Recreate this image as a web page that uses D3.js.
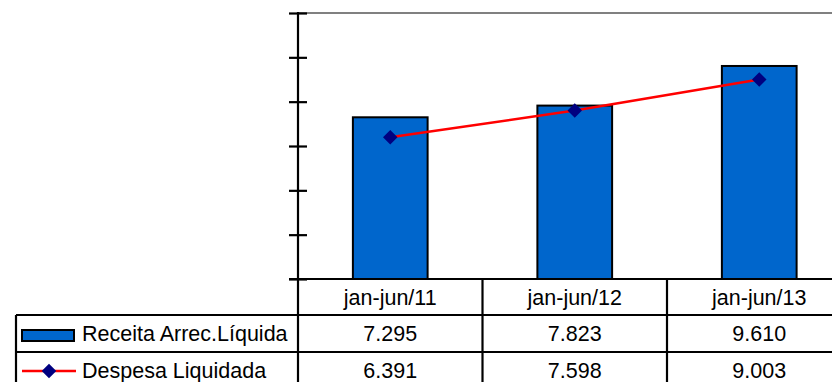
<!DOCTYPE html>
<html>
<head>
<meta charset="utf-8">
<script src="https://cdn.jsdelivr.net/npm/d3@7"></script>
<style>
  body { margin: 0; background: #fff; }
  svg { display: block; font-family: "Liberation Sans", Arial, sans-serif; }
</style>
</head>
<body>
<svg id="chart" width="832" height="382"></svg>
<script>
var categories = ["jan-jun/11", "jan-jun/12", "jan-jun/13"];
var receita = [7.295, 7.823, 9.610];
var despesa = [6.391, 7.598, 9.003];
var receitaLabels = ["7.295", "7.823", "9.610"];
var despesaLabels = ["6.391", "7.598", "9.003"];
var seriesNames = ["Receita Arrec.Líquida", "Despesa Liquidada"];
var yTicks = [0, 2, 4, 6, 8, 10, 12];

var svg = d3.select("#chart");

var plotLeft = 298, plotTop = 13, plotBottom = 279;
var colW = 184.5;
var rowH = [36, 37, 37];
var fontSize = 21.5;

var x = d3.scaleBand().domain(categories).range([plotLeft, plotLeft + colW * 3]);
var y = d3.scaleLinear().domain([0, 12]).range([plotBottom, plotTop]);

var barW = x.bandwidth() * 0.405;

// top border of plot area (gray)
svg.append("line")
  .attr("x1", plotLeft).attr("x2", 832)
  .attr("y1", y(12)).attr("y2", y(12))
  .attr("stroke", "#808080").attr("stroke-width", 2);

// bars
svg.append("g").selectAll("rect").data(receita).enter().append("rect")
  .attr("x", function(d, i) { return x(categories[i]) + (x.bandwidth() - barW) / 2; })
  .attr("y", function(d) { return y(d); })
  .attr("width", barW)
  .attr("height", function(d) { return plotBottom - y(d); })
  .attr("fill", "#0066CC")
  .attr("stroke", "#000").attr("stroke-width", 2);

// line
var line = d3.line()
  .x(function(d, i) { return x(categories[i]) + x.bandwidth() / 2; })
  .y(function(d) { return y(d); });

svg.append("path").datum(despesa)
  .attr("d", line)
  .attr("fill", "none")
  .attr("stroke", "#FF0000").attr("stroke-width", 2.5);

var diamond = d3.symbol().type(d3.symbolDiamond2).size(135);

svg.append("g").selectAll("path").data(despesa).enter().append("path")
  .attr("d", diamond)
  .attr("transform", function(d, i) {
    return "translate(" + (x(categories[i]) + x.bandwidth() / 2) + "," + y(d) + ")";
  })
  .attr("fill", "#000080");

// y axis (no labels)
var yAxis = d3.axisLeft(y).tickValues(yTicks).tickSize(9).tickFormat("");
var gy = svg.append("g").attr("transform", "translate(" + plotLeft + ",0)").call(yAxis);
gy.select(".domain").remove();
gy.selectAll(".tick line").attr("x2", 9).attr("x1", -9)
  .attr("stroke", "#000").attr("stroke-width", 2.2);
svg.append("line")
  .attr("x1", plotLeft).attr("x2", plotLeft)
  .attr("y1", y(12) - 1).attr("y2", 382)
  .attr("stroke", "#000").attr("stroke-width", 2.2);

// category axis line
svg.append("line")
  .attr("x1", plotLeft - 9).attr("x2", 832)
  .attr("y1", plotBottom).attr("y2", plotBottom)
  .attr("stroke", "#000").attr("stroke-width", 2.2);

// data table
var r1 = plotBottom + rowH[0];
var r2 = r1 + rowH[1];
var tableLeft = 16;

var grid = svg.append("g").attr("stroke", "#000").attr("stroke-width", 2.2);
[r1, r2].forEach(function(yy) {
  grid.append("line").attr("x1", tableLeft).attr("x2", 832).attr("y1", yy).attr("y2", yy);
});
grid.append("line").attr("x1", tableLeft).attr("x2", tableLeft).attr("y1", r1).attr("y2", 382);
categories.forEach(function(c, i) {
  if (i > 0) {
    grid.append("line").attr("x1", x(c)).attr("x2", x(c)).attr("y1", plotBottom).attr("y2", 382);
  }
});

var txt = svg.append("g").attr("font-size", fontSize).attr("fill", "#000");

txt.selectAll(".hdr").data(categories).enter().append("text")
  .attr("x", function(d) { return x(d) + x.bandwidth() / 2; })
  .attr("y", plotBottom + rowH[0] / 2)
  .attr("dy", "0.36em")
  .attr("text-anchor", "middle")
  .text(function(d) { return d; });

txt.selectAll(".r1").data(receitaLabels).enter().append("text")
  .attr("x", function(d, i) { return x(categories[i]) + x.bandwidth() / 2; })
  .attr("y", r1 + rowH[1] / 2)
  .attr("dy", "0.36em")
  .attr("text-anchor", "middle")
  .text(function(d) { return d; });

txt.selectAll(".r2").data(despesaLabels).enter().append("text")
  .attr("x", function(d, i) { return x(categories[i]) + x.bandwidth() / 2; })
  .attr("y", r2 + rowH[2] / 2)
  .attr("dy", "0.36em")
  .attr("text-anchor", "middle")
  .text(function(d) { return d; });

// legend keys
svg.append("rect")
  .attr("x", 22).attr("y", r1 + 15).attr("width", 52).attr("height", 11)
  .attr("fill", "#0066CC").attr("stroke", "#000").attr("stroke-width", 2);
txt.append("text").attr("x", 82).attr("y", r1 + rowH[1] / 2).attr("dy", "0.36em")
  .text(seriesNames[0]);

svg.append("line")
  .attr("x1", 22).attr("x2", 76)
  .attr("y1", r2 + 19).attr("y2", r2 + 19)
  .attr("stroke", "#FF0000").attr("stroke-width", 2.5);
svg.append("path").attr("d", diamond)
  .attr("transform", "translate(49," + (r2 + 19) + ")")
  .attr("fill", "#000080");
txt.append("text").attr("x", 82).attr("y", r2 + rowH[2] / 2).attr("dy", "0.36em")
  .text(seriesNames[1]);
</script>
</body>
</html>
